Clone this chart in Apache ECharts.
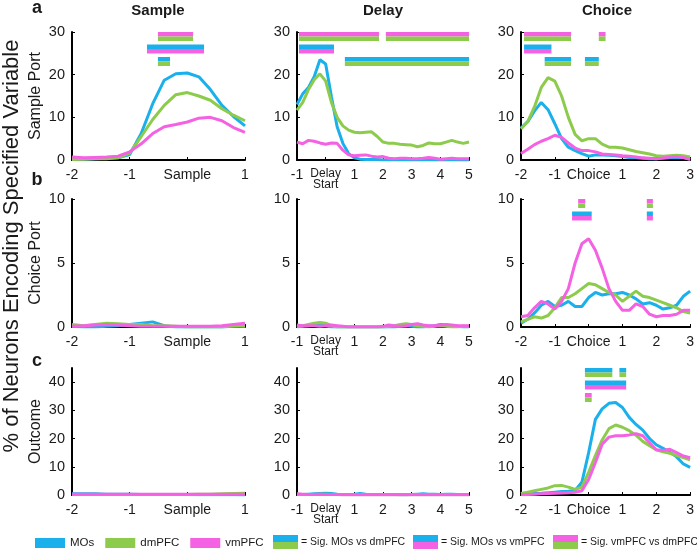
<!DOCTYPE html>
<html>
<head>
<meta charset="utf-8">
<script src="https://cdn.jsdelivr.net/npm/echarts@6/dist/echarts.min.js"></script>
<style>
    html, body { margin: 0; padding: 0; background: #fff; }
    #chart { width: 697px; height: 550px; }
</style>
</head>
<body>
<div id="chart"></div>
<script>
// 时间轴
const sampleTime = [-2, -1.8, -1.6, -1.4, -1.2, -1, -0.8, -0.6, -0.4, -0.2, 0, 0.2, 0.4, 0.6, 0.8, 1];
const delayTime = [-1, -0.8, -0.6, -0.4, -0.2, 0, 0.2, 0.4, 0.6, 0.8, 1, 1.2, 1.4, 1.6, 1.8, 2, 2.2, 2.4, 2.6, 2.8, 3, 3.2, 3.4, 3.6, 3.8, 4, 4.2, 4.4, 4.6, 4.8, 5];
const choiceTime = [-2, -1.8, -1.6, -1.4, -1.2, -1, -0.8, -0.6, -0.4, -0.2, 0, 0.2, 0.4, 0.6, 0.8, 1, 1.2, 1.4, 1.6, 1.8, 2, 2.2, 2.4, 2.6, 2.8, 3];

// a: Sample Port
const aSampleMOs = [0.2, 0.2, 0.3, 0.4, 0.5, 1.3, 6.2, 13.2, 18.7, 20.2, 20.4, 19.5, 16.5, 12.8, 10.2, 8.0];
const aSampleDm = [0.1, 0.2, 0.3, 0.3, 0.5, 1.6, 5.5, 9.5, 12.8, 15.3, 15.8, 15.0, 14.0, 12.0, 10.5, 9.2];
const aSampleVm = [0.7, 0.5, 0.6, 0.7, 0.9, 1.9, 3.8, 6.2, 7.8, 8.3, 8.9, 9.8, 10.0, 9.2, 7.6, 6.5];
const aDelayMOs = [13.0, 15.5, 17.0, 19.5, 23.5, 22.5, 14.9, 7.8, 3.9, 1.5, 0.5, 0.2, 0.1, 0.1, 0.1, 0, 0, 0, 0, 0, 0, 0, 0, 0, 0, 0, 0, 0, 0, 0, 0];
const aDelayDm = [11.7, 13.5, 16.5, 18.8, 20.2, 18.5, 13.5, 10.0, 8.0, 7.0, 6.5, 6.4, 6.5, 6.6, 5.5, 4.2, 3.9, 3.9, 3.7, 3.6, 3.5, 3.1, 3.4, 4.0, 3.8, 3.8, 4.2, 4.6, 4.2, 3.9, 4.2];
const aDelayVm = [4.2, 3.8, 4.6, 4.4, 4.0, 3.7, 4.0, 3.9, 2.3, 1.2, 1.0, 1.1, 1.2, 0.9, 0.7, 0.8, 0.4, 0.3, 0.4, 0.4, 0.3, 0.3, 0.4, 0.6, 0.4, 0.2, 0.3, 0.4, 0.3, 0.3, 0.3];
const aChoiceMOs = [7.5, 9.0, 11.5, 13.5, 11.8, 8.5, 5.0, 3.0, 2.2, 1.5, 0.9, 1.2, 1.2, 1.1, 1.0, 0.8, 0.6, 0.5, 0.4, 0.3, 0.3, 0.4, 0.5, 0.6, 0.5, 0.3];
const aChoiceDm = [7.3, 9.0, 12.5, 17.0, 19.3, 18.5, 15.0, 10.0, 6.0, 4.5, 5.0, 5.0, 3.7, 3.0, 3.0, 2.8, 2.4, 2.0, 1.7, 1.4, 1.0, 0.9, 1.0, 1.1, 1.0, 0.7];
const aChoiceVm = [1.5, 2.5, 3.6, 4.4, 5.0, 5.8, 5.3, 4.0, 2.8, 2.2, 2.2, 1.9, 1.4, 1.3, 1.2, 1.0, 0.9, 0.7, 0.5, 0.4, 0.3, 0.5, 0.7, 0.8, 0.6, 0.1];

// b: Choice Port
const bSampleMOs = [0.05, 0, 0, 0.05, 0.1, 0.2, 0.3, 0.4, 0.1, 0, 0, 0, 0, 0, 0.05, 0.1];
const bSampleDm = [0.2, 0.1, 0.2, 0.3, 0.25, 0.2, 0.2, 0.1, 0.1, 0.05, 0, 0, 0, 0, 0.1, 0.05];
const bSampleVm = [0.05, 0.1, 0.15, 0.2, 0.15, 0.1, 0.05, 0.05, 0.05, 0.05, 0.05, 0.05, 0.05, 0.1, 0.2, 0.3];
const bDelayMOs = [0, 0.05, 0.1, 0.15, 0.2, 0.1, 0, 0, 0, 0, 0, 0, 0, 0, 0, 0, 0, 0, 0.05, 0.1, 0.05, 0, 0, 0.05, 0.1, 0.2, 0.15, 0.1, 0.05, 0, 0];
const bDelayDm = [0.05, 0.1, 0.2, 0.3, 0.35, 0.3, 0.1, 0, 0, 0, 0, 0, 0, 0, 0, 0, 0.05, 0.1, 0.2, 0.25, 0.2, 0.1, 0.05, 0, 0.05, 0.1, 0.05, 0, 0, 0.05, 0.05];
const bDelayVm = [0.15, 0.1, 0.1, 0.1, 0.05, 0.1, 0.15, 0.1, 0.05, 0, 0, 0, 0, 0, 0, 0.05, 0.15, 0.1, 0.05, 0.1, 0.2, 0.25, 0.15, 0.1, 0.1, 0.15, 0.2, 0.15, 0.1, 0.1, 0.1];
const bChoiceMOs = [0.3, 0.6, 1.1, 1.7, 2.0, 1.6, 1.7, 2.0, 1.6, 1.6, 2.3, 2.7, 2.5, 2.6, 2.6, 2.7, 2.5, 2.2, 1.8, 1.9, 1.7, 1.4, 1.5, 1.7, 2.4, 2.8];
const bChoiceDm = [0.4, 0.6, 0.8, 0.7, 0.9, 1.5, 2.3, 2.3, 2.6, 3.0, 3.4, 3.3, 3.0, 2.7, 2.5, 2.0, 2.4, 2.8, 2.4, 2.3, 2.1, 1.9, 1.7, 1.5, 1.2, 1.1];
const bChoiceVm = [0.8, 0.9, 1.5, 2.0, 1.8, 1.4, 2.0, 3.0, 5.0, 6.5, 6.9, 6.0, 4.6, 3.0, 2.0, 1.3, 1.3, 1.8, 1.6, 1.0, 0.8, 0.9, 0.9, 1.0, 1.3, 1.3];

// c: Outcome
const cSampleMOs = [0.4, 0.4, 0.4, 0.3, 0.3, 0.3, 0.2, 0.2, 0.2, 0.2, 0.2, 0.1, 0.1, 0.1, 0.1, 0];
const cSampleDm = [0.2, 0.2, 0.2, 0.2, 0.2, 0.2, 0.2, 0.2, 0.2, 0.2, 0.2, 0.3, 0.3, 0.4, 0.5, 0.6];
const cSampleVm = [0.3, 0.3, 0.3, 0.3, 0.3, 0.3, 0.3, 0.3, 0.3, 0.3, 0.3, 0.3, 0.3, 0.3, 0.3, 0.3];
const cDelayMOs = [0.2, 0.2, 0.3, 0.4, 0.5, 0.6, 0.5, 0.3, 0.2, 0.2, 0.3, 0.5, 0.3, 0.2, 0.2, 0.2, 0.2, 0.2, 0.1, 0.1, 0.2, 0.3, 0.4, 0.3, 0.3, 0.2, 0.3, 0.3, 0.2, 0.2, 0.2];
const cDelayDm = [0.3, 0.2, 0.2, 0.2, 0.3, 0.3, 0.2, 0.2, 0.1, 0.1, 0.1, 0.1, 0.1, 0.1, 0.1, 0.1, 0.1, 0.1, 0.1, 0.1, 0.1, 0.1, 0.1, 0.1, 0.1, 0.1, 0.1, 0.1, 0.1, 0.1, 0.1];
const cDelayVm = [0.4, 0.3, 0.2, 0.2, 0.3, 0.2, 0.2, 0.2, 0.1, 0.1, 0.1, 0.1, 0.1, 0.1, 0.1, 0.1, 0.1, 0.1, 0.1, 0.1, 0.1, 0.1, 0.1, 0.1, 0.1, 0.1, 0.1, 0.1, 0.1, 0.1, 0.1];
const cChoiceMOs = [0.3, 0.4, 0.5, 0.6, 0.8, 1.0, 1.2, 1.3, 1.6, 4.5, 15.0, 26.8, 30.5, 32.5, 32.8, 31.0, 27.5, 25.0, 23.0, 20.0, 17.8, 16.5, 15.2, 13.5, 11.0, 9.8];
const cChoiceDm = [0.5, 1.0, 1.5, 2.0, 2.5, 3.3, 3.4, 2.8, 2.0, 2.8, 8.0, 14.0, 19.5, 23.5, 24.8, 24.0, 22.8, 21.2, 19.0, 17.5, 16.0, 15.3, 14.8, 14.0, 13.3, 12.5];
const cChoiceVm = [0.1, 0.2, 0.3, 0.4, 0.5, 0.6, 0.7, 0.8, 1.0, 1.5, 5.5, 11.5, 18.0, 20.5, 21.0, 21.0, 21.3, 21.7, 21.0, 18.5, 16.0, 15.8, 16.2, 15.0, 13.8, 13.2];

// 显著性区间 [起点, 终点, 行号, 比较]
const sigSampleA = [[-0.51, 0.10, 0, 'vmDm'], [-0.70, 0.29, 1, 'mosVm'], [-0.51, -0.30, 2, 'mosDm']];
const sigDelayA = [[-0.93, 1.86, 0, 'vmDm'], [2.10, 5.0, 0, 'vmDm'], [-0.93, 0.29, 1, 'mosVm'], [0.67, 5.0, 2, 'mosDm']];
const sigChoiceA = [[-1.91, -0.52, 0, 'vmDm'], [0.30, 0.50, 0, 'vmDm'], [-1.91, -1.10, 1, 'mosVm'], [-1.30, -0.52, 2, 'mosDm'], [-0.11, 0.30, 2, 'mosDm']];
const sigChoiceB = [[-0.31, -0.10, 0, 'vmDm'], [1.72, 1.90, 0, 'vmDm'], [-0.49, 0.09, 1, 'mosVm'], [1.72, 1.90, 1, 'mosVm']];
const sigChoiceC = [[-0.11, 0.70, 0, 'mosDm'], [0.91, 1.11, 0, 'mosDm'], [-0.11, 1.11, 1, 'mosVm'], [-0.11, 0.09, 2, 'vmDm']];

// 样式
const BLUE = '#1ab0ec';
const GREEN = '#8dcb4c';
const PINK = '#f462e3';
const TEXT = '#1a1a1a';
const PAIR_COLORS = { mosDm: [BLUE, GREEN], mosVm: [BLUE, PINK], vmDm: [PINK, GREEN] };
const ROW_STEP = 12.5;
const BAND = 4.5;

const colLeft = [72, 297, 521];
const colWidth = [173, 172, 172];
const rowTop = [32, 199, 368];
const rowHeight = [128, 128, 127];

const xRanges = [[-2, 1, 'Sample'], [-1, 5, 'Delay'], [-2, 3, 'Choice']];
const yRanges = [[0, 30, 10, 'Sample Port'], [0, 10, 5, 'Choice Port'], [0, 45, 10, 'Outcome']];

const panels = [
    [sampleTime, aSampleMOs, aSampleDm, aSampleVm, sigSampleA],
    [delayTime, aDelayMOs, aDelayDm, aDelayVm, sigDelayA],
    [choiceTime, aChoiceMOs, aChoiceDm, aChoiceVm, sigChoiceA],
    [sampleTime, bSampleMOs, bSampleDm, bSampleVm, []],
    [delayTime, bDelayMOs, bDelayDm, bDelayVm, []],
    [choiceTime, bChoiceMOs, bChoiceDm, bChoiceVm, sigChoiceB],
    [sampleTime, cSampleMOs, cSampleDm, cSampleVm, []],
    [delayTime, cDelayMOs, cDelayDm, cDelayVm, []],
    [choiceTime, cChoiceMOs, cChoiceDm, cChoiceVm, sigChoiceC]
];

function zip(t, v) {
    return t.map((x, i) => [x, v[i]]);
}

function xLabel(kind) {
    return function (v) {
        if (v !== 0) return String(v);
        if (kind === 'Delay') return '{s|Delay}\n{s|Start}';
        return kind;
    };
}

function sigSeries(list, idx) {
    return {
        type: 'custom',
        xAxisIndex: idx,
        yAxisIndex: idx,
        clip: false,
        silent: true,
        z: 5,
        encode: { x: [0, 1], y: 2 },
        data: list.map(s => [s[0], s[1], s[2]]),
        renderItem: function (params, api) {
            const s = list[params.dataIndex];
            const x0 = api.coord([s[0], 0])[0];
            const x1 = api.coord([s[1], 0])[0];
            const top = params.coordSys.y + s[2] * ROW_STEP;
            const c = PAIR_COLORS[s[3]];
            return {
                type: 'group',
                children: [
                    { type: 'rect', shape: { x: x0, y: top, width: x1 - x0, height: BAND }, style: { fill: c[0] } },
                    { type: 'rect', shape: { x: x0, y: top + BAND, width: x1 - x0, height: BAND }, style: { fill: c[1] } }
                ]
            };
        }
    };
}

function lineSeries(name, color, data, idx) {
    return {
        name: name,
        type: 'line',
        xAxisIndex: idx,
        yAxisIndex: idx,
        showSymbol: false,
        symbol: 'none',
        lineStyle: { color: color, width: 3 },
        itemStyle: { color: color },
        data: data
    };
}

const grids = [], xAxes = [], yAxes = [], series = [];
panels.forEach((p, i) => {
    const r = Math.floor(i / 3), c = i % 3;
    const xr = xRanges[c], yr = yRanges[r];
    grids.push({ left: colLeft[c], top: rowTop[r], width: colWidth[c], height: rowHeight[r] });
    xAxes.push({
        type: 'value', gridIndex: i, min: xr[0], max: xr[1], interval: 1,
        axisLine: { onZero: false, lineStyle: { color: '#000', width: 2 } },
        axisTick: { inside: true, length: 3, lineStyle: { color: '#000' } },
        splitLine: { show: false },
        axisLabel: {
            color: TEXT, fontSize: 14, margin: 8, fontFamily: 'Liberation Sans',
            formatter: xLabel(xr[2]),
            rich: { s: { fontSize: 12, lineHeight: 11, color: TEXT, fontFamily: 'Liberation Sans' } }
        }
    });
    const yTicks = [];
    for (let v = yr[0]; v <= yr[1]; v += yr[2]) yTicks.push(v);
    yAxes.push({
        type: 'value', gridIndex: i, min: yr[0], max: yr[1], interval: yr[2],
        name: c === 0 ? yr[3] : '',
        nameLocation: 'middle', nameGap: 28,
        nameTextStyle: { fontSize: 16, color: TEXT, fontFamily: 'Liberation Sans' },
        axisLine: { show: true, onZero: false, lineStyle: { color: '#000', width: 2 } },
        axisTick: { show: true, inside: true, length: 3, customValues: yTicks, lineStyle: { color: '#000' } },
        splitLine: { show: false },
        axisLabel: { color: TEXT, fontSize: 14.5, margin: 7, fontFamily: 'Liberation Sans', customValues: yTicks }
    });
    series.push(lineSeries('MOs', BLUE, zip(p[0], p[1]), i));
    series.push(lineSeries('dmPFC', GREEN, zip(p[0], p[2]), i));
    series.push(lineSeries('vmPFC', PINK, zip(p[0], p[3]), i));
    if (p[4].length) series.push(sigSeries(p[4], i));
});

// 文本与图例附加部分
const titleFont = 'bold 15px "Liberation Sans"';
const letterFont = 'bold 18px "Liberation Sans"';
const graphics = [
    { type: 'text', x: 158, y: 11, style: { text: 'Sample', font: titleFont, fill: TEXT, align: 'center', verticalAlign: 'middle' } },
    { type: 'text', x: 383, y: 11, style: { text: 'Delay', font: titleFont, fill: TEXT, align: 'center', verticalAlign: 'middle' } },
    { type: 'text', x: 607, y: 11, style: { text: 'Choice', font: titleFont, fill: TEXT, align: 'center', verticalAlign: 'middle' } },
    { type: 'text', x: 37, y: 8, style: { text: 'a', font: letterFont, fill: TEXT, align: 'center', verticalAlign: 'middle' } },
    { type: 'text', x: 37, y: 180, style: { text: 'b', font: letterFont, fill: TEXT, align: 'center', verticalAlign: 'middle' } },
    { type: 'text', x: 37, y: 361, style: { text: 'c', font: letterFont, fill: TEXT, align: 'center', verticalAlign: 'middle' } },
    {
        type: 'text', x: 12, y: 246, rotation: Math.PI / 2,
        style: { text: '% of Neurons Encoding Specified Variable', font: '22px "Liberation Sans"', fill: TEXT, align: 'center', verticalAlign: 'middle' }
    }
];
const sigLegend = [[273, 'mosDm', '= Sig. MOs vs dmPFC'], [413, 'mosVm', '= Sig. MOs vs vmPFC'], [553, 'vmDm', '= Sig. vmPFC vs dmPFC']];
sigLegend.forEach(s => {
    const c = PAIR_COLORS[s[1]];
    graphics.push({ type: 'rect', shape: { x: s[0], y: 535, width: 25, height: 7 }, style: { fill: c[0] } });
    graphics.push({ type: 'rect', shape: { x: s[0], y: 542, width: 25, height: 7 }, style: { fill: c[1] } });
    graphics.push({ type: 'text', x: s[0] + 28, y: 542, style: { text: s[2], font: '10.5px "Liberation Sans"', fill: TEXT, verticalAlign: 'middle' } });
});

const chart = echarts.init(document.getElementById('chart'));
chart.setOption({
    animation: false,
    backgroundColor: '#fff',
    textStyle: { fontFamily: 'Liberation Sans' },
    grid: grids,
    xAxis: xAxes,
    yAxis: yAxes,
    legend: {
        data: [{ name: 'MOs', icon: 'rect' }, { name: 'dmPFC', icon: 'rect' }, { name: 'vmPFC', icon: 'rect' }],
        left: 35, top: 537, itemWidth: 30, itemHeight: 10, itemGap: 11, padding: 0,
        textStyle: { fontSize: 11.5, color: TEXT, fontFamily: 'Liberation Sans' }
    },
    graphic: graphics,
    series: series
});
</script>
</body>
</html>
